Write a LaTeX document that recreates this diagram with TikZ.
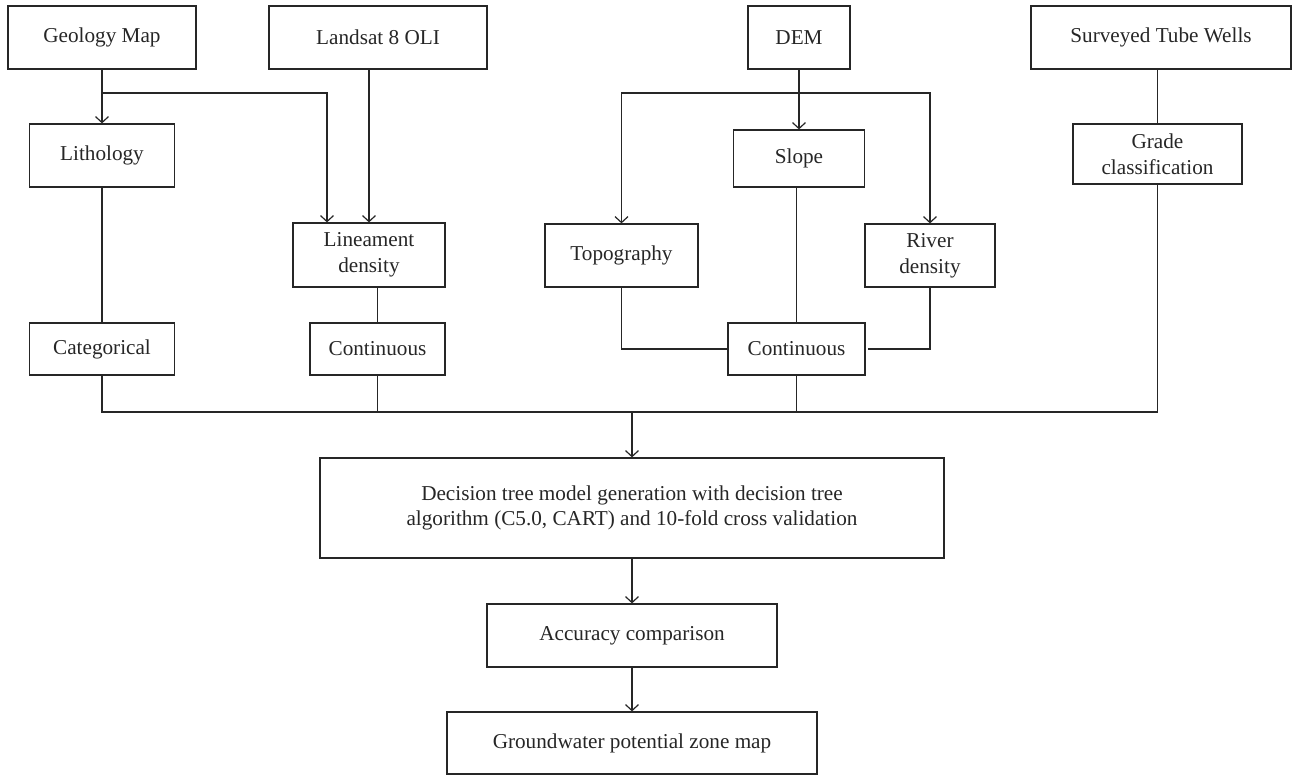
\documentclass[tikz,border=0pt]{standalone}
\usepackage{fontspec}
\setmainfont{Liberation Serif}
\usetikzlibrary{arrows.meta}
\tikzset{box/.style={draw, line width=0.6pt, align=center, inner sep=2pt, font=\fontsize{10.6}{12.8}\selectfont}}
\tikzset{link/.style={line width=0.6pt}}
\tikzset{arc/.style={link, -{Straight Barb[length=3pt,width=6.5pt]}}}

\begin{document}
\begin{tikzpicture}[x=0.5pt, y=-0.5pt, black!85]
\useasboundingbox (0,0) rectangle (1292,775);
% sources
\node (geo) at (102,37.5)[box, minimum width=94pt, minimum height=31.5pt]{Geology Map};
\node (land) at (378,37.5)[box, minimum width=109pt, minimum height=31.5pt]{Landsat 8 OLI};
\node (dem) at (799,37.5)[box, minimum width=51pt, minimum height=31.5pt]{DEM};
\node (well) at (1161,37.5)[box, minimum width=130pt, minimum height=31.5pt]{Surveyed Tube Wells};
% factors
\node (litho) at (102,155.5)[box, minimum width=72.5pt, minimum height=31.5pt]{Lithology};
\node (slope) at (799,158.5)[box, minimum width=65.5pt, minimum height=28.5pt]{Slope};
\node (grade) at (1157.5,154)[box, minimum width=84.5pt, minimum height=30pt]{Grade\\classification};
\node (linea) at (369,255)[box, minimum width=76pt, minimum height=32pt]{Lineament\\density};
\node (topo) at (621.5,255.5)[box, minimum width=76.5pt, minimum height=31.5pt]{Topography};
\node (river) at (930,255.5)[box, minimum width=65pt, minimum height=31.5pt]{River\\density};
% data types
\node (cat) at (102,349)[box, minimum width=72.5pt, minimum height=26pt]{Categorical};
\node (cont1) at (377.5,349)[box, minimum width=67.5pt, minimum height=26pt]{Continuous};
\node (cont2) at (796.5,349)[box, minimum width=68.5pt, minimum height=26pt]{Continuous};
% model
\node (dtree) at (632,508)[box, minimum width=312pt, minimum height=50pt]{Decision tree model generation with decision tree\\algorithm (C5.0, CART) and 10-fold cross validation};
\node (acc) at (632,635.5)[box, minimum width=145pt, minimum height=31.5pt]{Accuracy comparison};
\node (gw) at (632,743)[box, minimum width=185pt, minimum height=31pt]{Groundwater potential zone map};

\coordinate (geobr) at (102,93);
\coordinate (geoend) at (327,93);
\coordinate (dembr) at (799,93);
\coordinate (bus) at (632,412);

\draw[arc] (geo.south) -- (litho.north);
\draw[arc] (geobr) -- (geoend) -- (geoend |- linea.north);
\draw[arc] (linea.north |- land.south) -- (linea.north);
\draw[link] (litho) -- (cat);
\draw[link] (cont1.north |- linea.south) -- (cont1.north);

\draw[arc] (dem) -- (slope);
\draw[arc] (dembr) -| (topo.north);
\draw[arc] (dembr) -| (river.north);
\draw[link] (cont2.north |- slope.south) -- (cont2.north);
\draw[link] (topo.south) |- (cont2.west);
\draw[link] (river.south) |- ([xshift=1pt]cont2.east);

\draw[link] (well.south -| grade.north) -- (grade.north);

\draw[link] (cat.south) -- (cat.south |- bus) -- (bus -| grade.south) -- (grade.south);
\draw[link] (cont1.south) -- (cont1.south |- bus);
\draw[link] (cont2.south) -- (cont2.south |- bus);
\draw[arc] (bus) -- (dtree);
\draw[arc] (dtree) -- (acc);
\draw[arc] (acc) -- (gw);
\end{tikzpicture}
\end{document}
